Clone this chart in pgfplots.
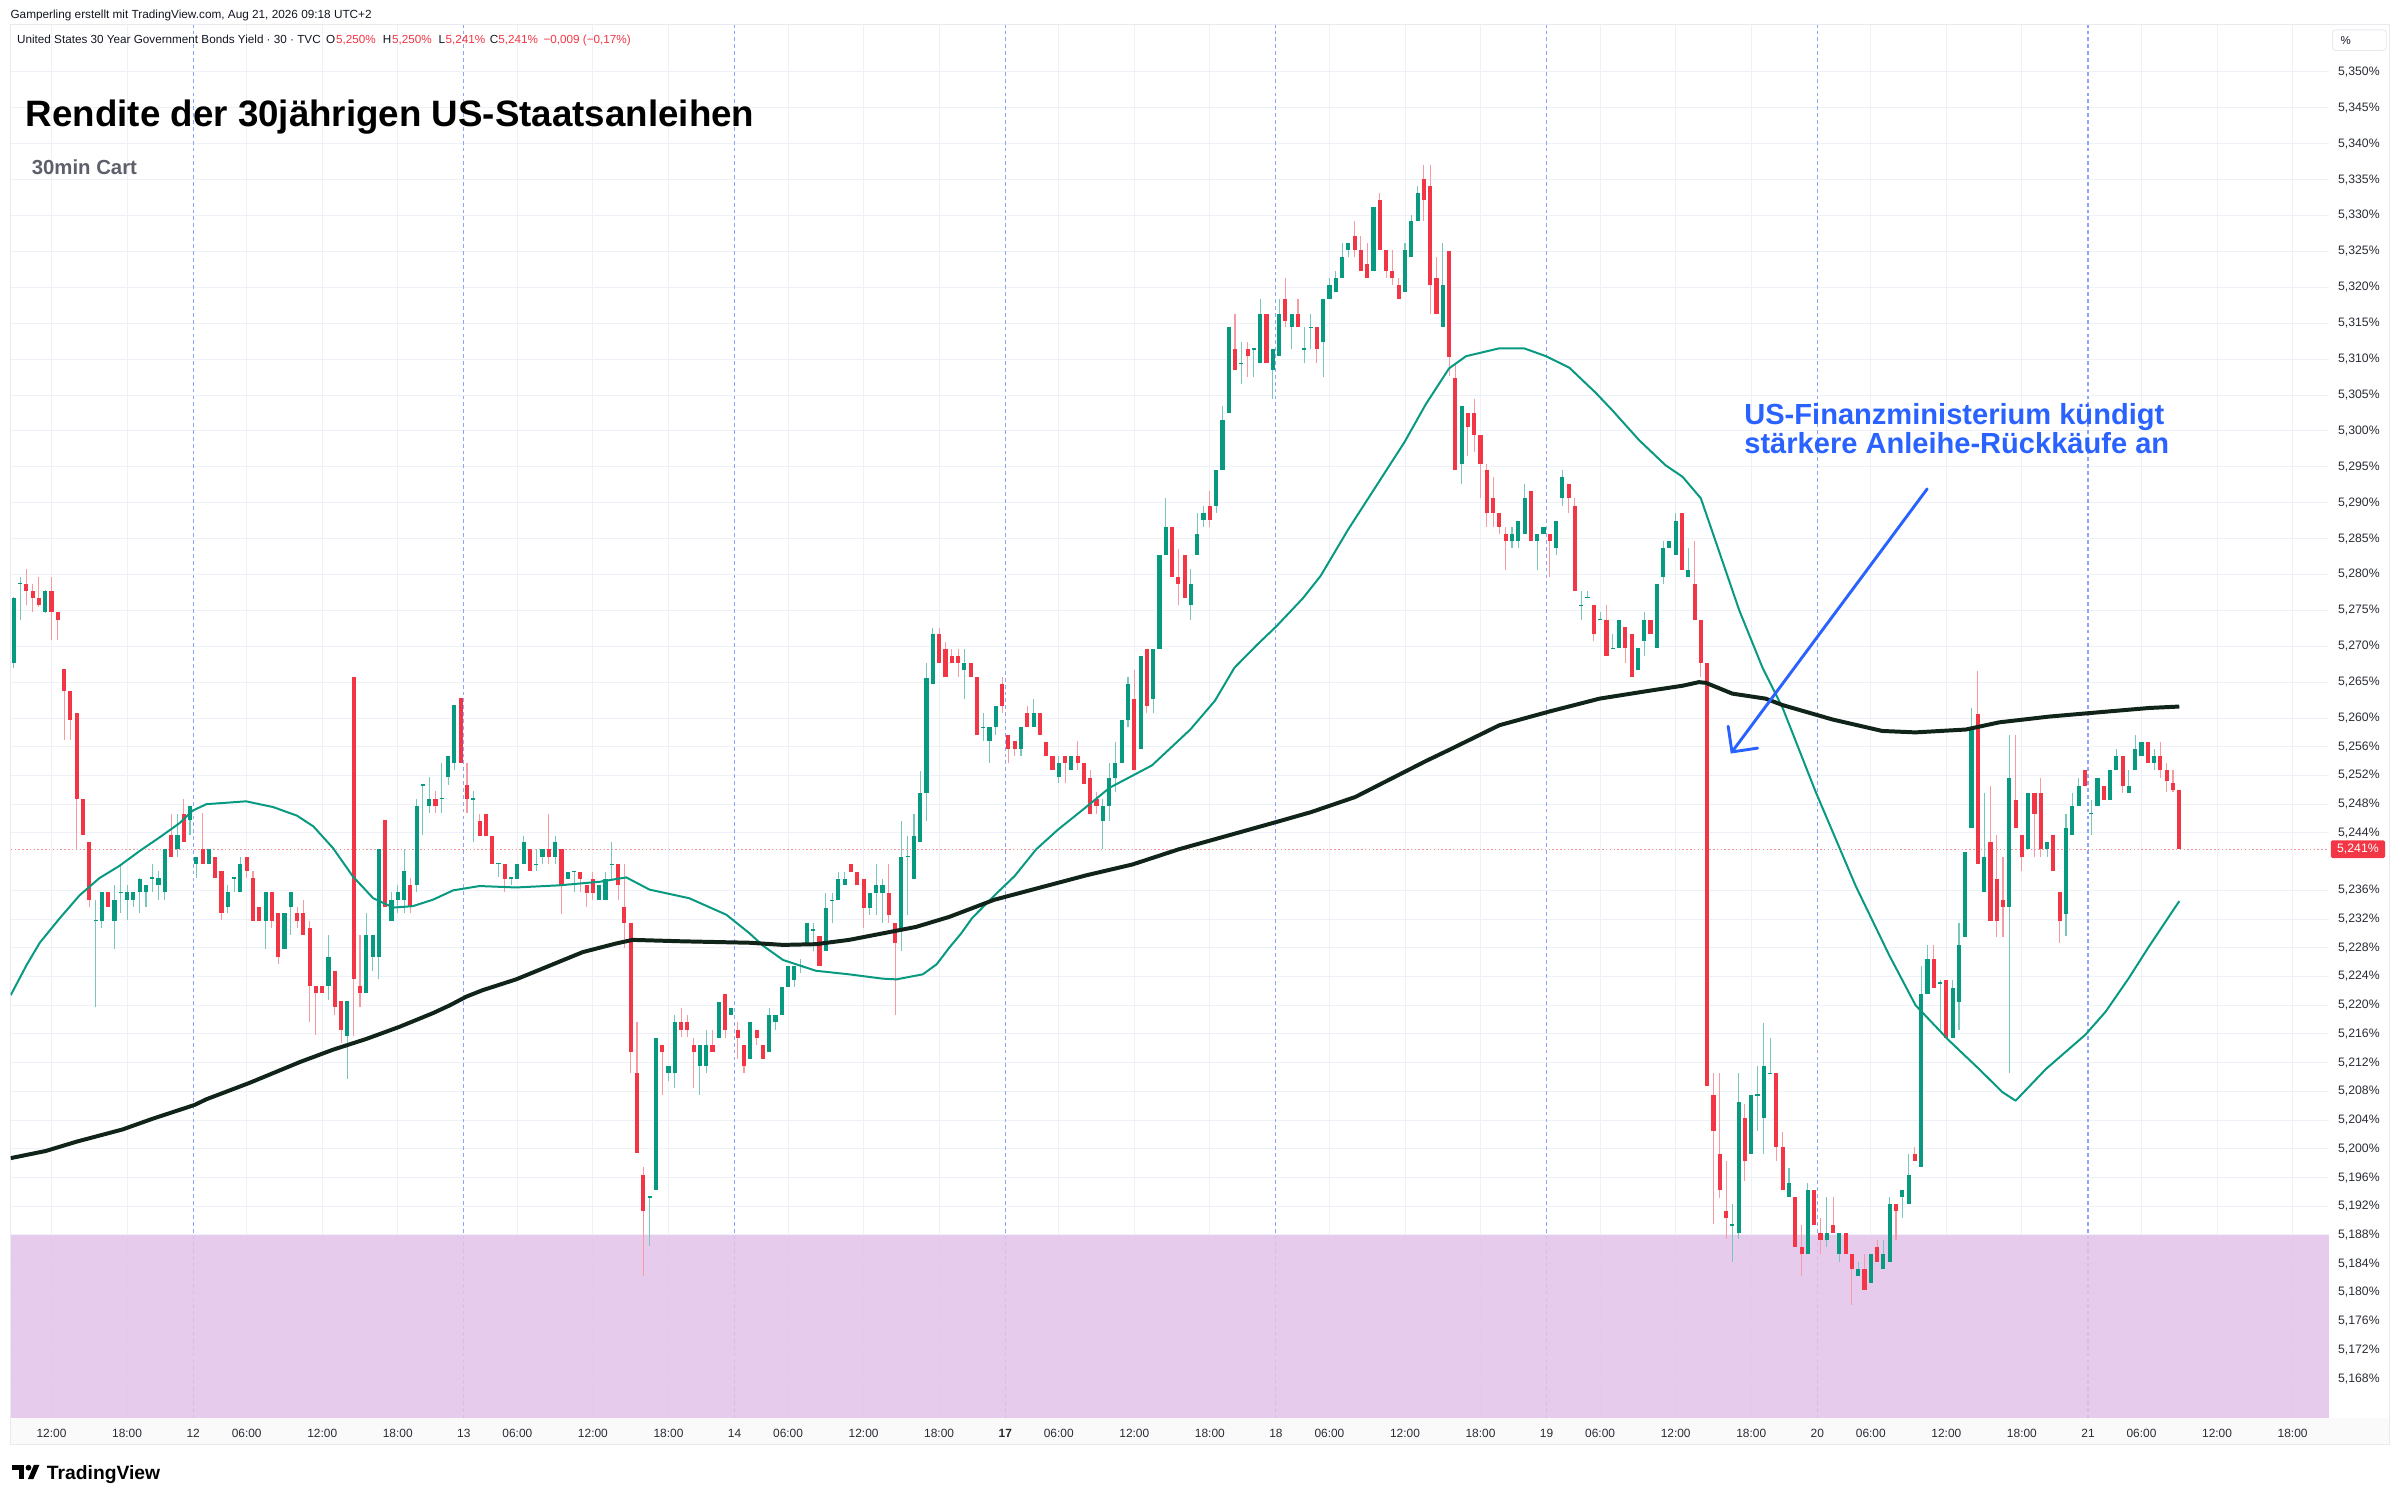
\documentclass[border=0pt]{standalone}
\usepackage{fontspec}
\setmainfont{Liberation Sans}
\usepackage{pgfplots}
\pgfplotsset{compat=1.18}
\usepackage{pgfplotstable}
\usetikzlibrary{arrows.meta}

\definecolor{upcol}{RGB}{8,153,129}
\definecolor{downcol}{RGB}{242,54,69}
\definecolor{gridcol}{RGB}{238,241,247}
\definecolor{daycol}{RGB}{140,165,250}
\definecolor{zonecol}{RGB}{227,195,233}
\definecolor{labelcol}{RGB}{40,44,52}
\definecolor{textcol}{RGB}{19,23,34}
\definecolor{subcol}{RGB}{93,96,107}
\definecolor{annblue}{RGB}{41,98,255}
\definecolor{maBlack}{RGB}{16,36,26}
\definecolor{stripcol}{RGB}{250,250,250}
\definecolor{bordercol}{RGB}{232,234,238}

\pgfplotstableread[row sep=\\]{
k O H L C\\
0 5.2676 5.2769 5.2669 5.2767\\
1 5.2786 5.2797 5.2737 5.2788\\
5 5.2747 5.2778 5.2746 5.2777\\
13 5.2317 5.2347 5.2197 5.2319\\
14 5.2317 5.2357 5.2308 5.2357\\
16 5.2317 5.2367 5.2278 5.2347\\
17 5.2356 5.2396 5.2328 5.2358\\
18 5.2347 5.2367 5.2318 5.2357\\
19 5.2347 5.2358 5.2337 5.2357\\
20 5.2357 5.2377 5.2328 5.2376\\
21 5.2357 5.2368 5.2337 5.2367\\
22 5.2376 5.2397 5.2358 5.2378\\
23 5.2367 5.2387 5.2347 5.2377\\
24 5.2357 5.2418 5.2347 5.2418\\
26 5.2418 5.2467 5.2407 5.2437\\
28 5.2458 5.2477 5.2437 5.2477\\
29 5.2397 5.2407 5.2377 5.2407\\
31 5.2397 5.2418 5.2397 5.2418\\
34 5.2337 5.2367 5.2328 5.2357\\
35 5.2376 5.2378 5.2357 5.2378\\
36 5.2357 5.2407 5.2357 5.2397\\
40 5.2317 5.2357 5.2278 5.2357\\
43 5.2278 5.2328 5.2278 5.2328\\
44 5.2337 5.2357 5.2298 5.2357\\
50 5.2227 5.2298 5.2207 5.2267\\
53 5.2157 5.2206 5.2097 5.2206\\
56 5.2217 5.2328 5.2217 5.2298\\
57 5.2267 5.2298 5.2247 5.2298\\
58 5.2267 5.2418 5.2237 5.2418\\
60 5.2317 5.2357 5.2317 5.2347\\
61 5.2347 5.2367 5.2328 5.2357\\
62 5.2347 5.2418 5.2328 5.2387\\
64 5.2367 5.2487 5.2357 5.2477\\
65 5.2506 5.2508 5.2437 5.2508\\
66 5.2477 5.2518 5.2468 5.2487\\
68 5.2487 5.2537 5.2468 5.2489\\
69 5.2518 5.2547 5.2507 5.2547\\
70 5.2537 5.2618 5.2528 5.2618\\
73 5.2486 5.2498 5.2428 5.2488\\
77 5.2396 5.2397 5.2378 5.2398\\
79 5.2376 5.2378 5.2367 5.2378\\
80 5.2376 5.2396 5.2376 5.2396\\
81 5.2396 5.2435 5.2396 5.2427\\
83 5.2395 5.2417 5.2387 5.2397\\
84 5.2407 5.2417 5.2396 5.2417\\
86 5.2407 5.2435 5.2396 5.2427\\
88 5.2376 5.2386 5.2376 5.2386\\
89 5.2385 5.2387 5.2357 5.2387\\
93 5.2346 5.2367 5.2346 5.2367\\
94 5.2346 5.2386 5.2346 5.2376\\
95 5.2395 5.2427 5.2376 5.2397\\
101 5.1932 5.1934 5.1864 5.1934\\
102 5.1943 5.2154 5.1943 5.2154\\
104 5.2105 5.2115 5.2095 5.2115\\
105 5.2105 5.2186 5.2085 5.2176\\
109 5.2115 5.2144 5.2075 5.2144\\
110 5.2115 5.2166 5.2106 5.2144\\
112 5.2154 5.2205 5.2154 5.2205\\
114 5.2186 5.2196 5.2186 5.2196\\
117 5.2125 5.2176 5.2125 5.2176\\
120 5.2135 5.2196 5.2135 5.2186\\
121 5.2176 5.2186 5.2166 5.2186\\
122 5.2186 5.2225 5.2186 5.2225\\
123 5.2225 5.2255 5.2225 5.2255\\
124 5.2235 5.2255 5.2225 5.2255\\
125 5.2254 5.2265 5.2245 5.2256\\
126 5.2285 5.2315 5.2285 5.2315\\
127 5.2304 5.2315 5.2275 5.2306\\
129 5.2276 5.2356 5.2276 5.2336\\
130 5.2345 5.2356 5.2315 5.2347\\
131 5.2346 5.2386 5.2346 5.2376\\
132 5.2367 5.2386 5.2367 5.2376\\
136 5.2336 5.2356 5.2326 5.2356\\
137 5.2356 5.2396 5.2326 5.2367\\
138 5.2356 5.2376 5.2315 5.2367\\
141 5.2305 5.2456 5.2276 5.2407\\
142 5.2406 5.2435 5.2326 5.2408\\
143 5.2376 5.2466 5.2376 5.2435\\
144 5.2427 5.2526 5.2427 5.2496\\
145 5.2496 5.2677 5.2456 5.2656\\
146 5.2647 5.2726 5.2647 5.2717\\
151 5.2667 5.2696 5.2627 5.2676\\
154 5.2586 5.2607 5.2568 5.2588\\
155 5.2568 5.2587 5.2537 5.2587\\
156 5.2587 5.2617 5.2577 5.2617\\
160 5.2557 5.2587 5.2547 5.2587\\
162 5.2587 5.2627 5.2587 5.2607\\
166 5.2518 5.2547 5.2509 5.2537\\
168 5.2527 5.2547 5.2527 5.2547\\
173 5.2457 5.2487 5.2417 5.2478\\
174 5.2478 5.2537 5.2457 5.2517\\
175 5.2517 5.2567 5.2497 5.2537\\
176 5.2537 5.2597 5.2537 5.2597\\
177 5.2597 5.2657 5.2587 5.2647\\
179 5.2557 5.2687 5.2557 5.2687\\
181 5.2627 5.2696 5.2607 5.2696\\
182 5.2696 5.2827 5.2696 5.2827\\
183 5.2827 5.2906 5.2827 5.2866\\
187 5.2757 5.2807 5.2737 5.2787\\
188 5.2827 5.2886 5.2827 5.2857\\
189 5.2876 5.2896 5.2866 5.2886\\
191 5.2896 5.2946 5.2886 5.2946\\
192 5.2946 5.3035 5.2946 5.3015\\
193 5.3025 5.3144 5.3025 5.3144\\
195 5.3093 5.3124 5.3065 5.3095\\
197 5.3113 5.3115 5.3075 5.3115\\
198 5.3094 5.3183 5.3094 5.3163\\
200 5.3085 5.3114 5.3045 5.3114\\
201 5.3104 5.3183 5.3104 5.3163\\
203 5.3144 5.3163 5.3114 5.3163\\
205 5.3113 5.3144 5.3094 5.3115\\
206 5.3143 5.3163 5.3114 5.3145\\
208 5.3124 5.3183 5.3075 5.3183\\
209 5.3183 5.3213 5.3183 5.3203\\
210 5.3193 5.3223 5.3193 5.3213\\
211 5.3213 5.3262 5.3213 5.3242\\
212 5.3252 5.3262 5.3242 5.3262\\
216 5.3223 5.3312 5.3223 5.3312\\
221 5.3193 5.3262 5.3193 5.3252\\
222 5.3242 5.3301 5.3242 5.3292\\
223 5.3292 5.3341 5.3292 5.3331\\
227 5.3144 5.3262 5.3144 5.3203\\
230 5.2954 5.3034 5.2926 5.3034\\
238 5.2846 5.2866 5.2837 5.2856\\
239 5.2846 5.2875 5.2837 5.2875\\
240 5.2856 5.2926 5.2856 5.2906\\
242 5.2846 5.2856 5.2806 5.2856\\
243 5.2856 5.2866 5.2856 5.2866\\
245 5.2837 5.2875 5.2827 5.2875\\
246 5.2906 5.2946 5.2896 5.2936\\
249 5.2756 5.2777 5.2737 5.2758\\
250 5.2767 5.2777 5.2767 5.2769\\
252 5.2736 5.2747 5.2736 5.2738\\
254 5.2696 5.2717 5.2696 5.2698\\
255 5.2697 5.2737 5.2697 5.2737\\
258 5.2667 5.2697 5.2667 5.2697\\
259 5.2707 5.2747 5.2687 5.2737\\
261 5.2697 5.2787 5.2697 5.2787\\
262 5.2797 5.2846 5.2787 5.2837\\
263 5.2837 5.2846 5.2837 5.2846\\
264 5.2827 5.2886 5.2827 5.2875\\
266 5.2797 5.2837 5.2797 5.2806\\
273 5.1893 5.1923 5.1843 5.1895\\
274 5.1883 5.2105 5.1875 5.2065\\
276 5.1993 5.2075 5.1993 5.2075\\
277 5.2074 5.2115 5.2025 5.2076\\
278 5.2043 5.2175 5.1993 5.2115\\
279 5.2104 5.2155 5.2104 5.2106\\
282 5.1933 5.1973 5.1933 5.1953\\
285 5.1853 5.1953 5.1853 5.1943\\
288 5.1873 5.1933 5.1863 5.1883\\
290 5.1853 5.1883 5.1843 5.1883\\
293 5.1823 5.1843 5.1823 5.1833\\
295 5.1813 5.1853 5.1813 5.1853\\
297 5.1833 5.1873 5.1833 5.1853\\
298 5.1843 5.1933 5.1843 5.1923\\
300 5.1933 5.1943 5.1903 5.1943\\
301 5.1923 5.1993 5.1923 5.1963\\
303 5.1975 5.2255 5.1975 5.2215\\
304 5.2215 5.2284 5.2215 5.2264\\
306 5.2230 5.2235 5.2165 5.2232\\
308 5.2155 5.2235 5.2155 5.2224\\
309 5.2205 5.2315 5.2165 5.2284\\
310 5.2295 5.2414 5.2295 5.2414\\
311 5.2447 5.2614 5.2447 5.2586\\
313 5.2357 5.2496 5.2357 5.2407\\
317 5.2337 5.2577 5.2105 5.2517\\
320 5.2417 5.2496 5.2417 5.2496\\
323 5.2417 5.2427 5.2407 5.2427\\
326 5.2327 5.2467 5.2297 5.2447\\
327 5.2437 5.2496 5.2437 5.2477\\
328 5.2477 5.2517 5.2477 5.2506\\
330 5.2466 5.2486 5.2437 5.2468\\
331 5.2477 5.2517 5.2477 5.2517\\
333 5.2486 5.2527 5.2486 5.2527\\
334 5.2527 5.2557 5.2527 5.2547\\
336 5.2496 5.2527 5.2496 5.2506\\
337 5.2527 5.2577 5.2527 5.2557\\
338 5.2547 5.2567 5.2547 5.2567\\
340 5.2537 5.2557 5.2527 5.2547\\
}\upT

\pgfplotstableread[row sep=\\]{
k O H L C\\
2 5.2787 5.2807 5.2757 5.2777\\
3 5.2777 5.2787 5.2747 5.2767\\
4 5.2767 5.2797 5.2755 5.2757\\
6 5.2777 5.2797 5.2708 5.2747\\
7 5.2747 5.2748 5.2708 5.2737\\
8 5.2668 5.2668 5.2569 5.2637\\
9 5.2637 5.2637 5.2569 5.2597\\
10 5.2607 5.2607 5.2418 5.2487\\
11 5.2487 5.2487 5.2437 5.2437\\
12 5.2428 5.2428 5.2337 5.2347\\
15 5.2357 5.2357 5.2337 5.2337\\
25 5.2437 5.2467 5.2407 5.2407\\
27 5.2467 5.2487 5.2428 5.2428\\
30 5.2418 5.2468 5.2397 5.2397\\
32 5.2407 5.2407 5.2377 5.2377\\
33 5.2387 5.2387 5.2318 5.2328\\
37 5.2407 5.2407 5.2377 5.2387\\
38 5.2377 5.2387 5.2317 5.2317\\
39 5.2337 5.2337 5.2317 5.2317\\
41 5.2357 5.2357 5.2308 5.2317\\
42 5.2328 5.2328 5.2257 5.2267\\
45 5.2328 5.2337 5.2308 5.2317\\
46 5.2328 5.2347 5.2298 5.2298\\
47 5.2308 5.2317 5.2177 5.2227\\
48 5.2227 5.2227 5.2158 5.2217\\
49 5.2227 5.2227 5.2217 5.2217\\
51 5.2247 5.2247 5.2187 5.2197\\
52 5.2206 5.2206 5.2147 5.2166\\
54 5.2657 5.2657 5.2157 5.2237\\
55 5.2227 5.2298 5.2197 5.2217\\
59 5.2458 5.2458 5.2337 5.2337\\
63 5.2367 5.2377 5.2328 5.2337\\
67 5.2487 5.2498 5.2468 5.2477\\
71 5.2628 5.2628 5.2537 5.2537\\
72 5.2507 5.2537 5.2468 5.2487\\
74 5.2456 5.2467 5.2435 5.2435\\
75 5.2466 5.2466 5.2435 5.2435\\
76 5.2435 5.2435 5.2396 5.2396\\
78 5.2396 5.2396 5.2357 5.2376\\
82 5.2417 5.2417 5.2387 5.2387\\
85 5.2417 5.2466 5.2396 5.2407\\
87 5.2417 5.2417 5.2327 5.2367\\
90 5.2386 5.2386 5.2357 5.2376\\
91 5.2367 5.2367 5.2337 5.2356\\
92 5.2376 5.2386 5.2346 5.2356\\
96 5.2396 5.2396 5.2346 5.2367\\
97 5.2337 5.2396 5.2280 5.2315\\
98 5.2315 5.2315 5.2106 5.2135\\
99 5.2105 5.2176 5.1994 5.1994\\
100 5.1963 5.1974 5.1823 5.1913\\
103 5.2144 5.2144 5.2075 5.2135\\
106 5.2176 5.2196 5.2156 5.2166\\
107 5.2176 5.2186 5.2156 5.2166\\
108 5.2144 5.2154 5.2085 5.2135\\
111 5.2144 5.2166 5.2135 5.2135\\
113 5.2216 5.2216 5.2154 5.2166\\
115 5.2166 5.2176 5.2125 5.2154\\
116 5.2144 5.2144 5.2105 5.2115\\
118 5.2166 5.2166 5.2144 5.2154\\
119 5.2144 5.2144 5.2125 5.2125\\
128 5.2296 5.2296 5.2255 5.2255\\
133 5.2396 5.2396 5.2386 5.2386\\
134 5.2386 5.2386 5.2367 5.2367\\
135 5.2376 5.2376 5.2307 5.2336\\
139 5.2356 5.2396 5.2315 5.2326\\
140 5.2315 5.2315 5.2186 5.2286\\
147 5.2717 5.2726 5.2676 5.2676\\
148 5.2696 5.2706 5.2657 5.2657\\
149 5.2687 5.2696 5.2676 5.2676\\
150 5.2687 5.2696 5.2657 5.2676\\
152 5.2676 5.2676 5.2657 5.2657\\
153 5.2657 5.2657 5.2577 5.2577\\
157 5.2647 5.2657 5.2607 5.2617\\
158 5.2577 5.2577 5.2537 5.2557\\
159 5.2568 5.2568 5.2547 5.2557\\
161 5.2607 5.2617 5.2587 5.2587\\
163 5.2607 5.2607 5.2577 5.2577\\
164 5.2567 5.2567 5.2547 5.2547\\
165 5.2547 5.2547 5.2527 5.2527\\
167 5.2547 5.2547 5.2509 5.2537\\
169 5.2547 5.2568 5.2527 5.2537\\
170 5.2537 5.2537 5.2508 5.2508\\
171 5.2517 5.2527 5.2467 5.2467\\
172 5.2487 5.2497 5.2467 5.2478\\
178 5.2627 5.2667 5.2527 5.2527\\
180 5.2696 5.2696 5.2607 5.2617\\
184 5.2866 5.2866 5.2796 5.2796\\
185 5.2796 5.2836 5.2757 5.2787\\
186 5.2827 5.2827 5.2767 5.2767\\
190 5.2896 5.2916 5.2866 5.2876\\
194 5.3114 5.3163 5.3085 5.3085\\
196 5.3114 5.3124 5.3075 5.3104\\
199 5.3163 5.3163 5.3094 5.3094\\
202 5.3183 5.3213 5.3144 5.3153\\
204 5.3163 5.3183 5.3144 5.3144\\
207 5.3144 5.3144 5.3094 5.3114\\
213 5.3272 5.3292 5.3242 5.3252\\
214 5.3252 5.3272 5.3223 5.3223\\
215 5.3232 5.3262 5.3213 5.3213\\
217 5.3321 5.3331 5.3252 5.3252\\
218 5.3252 5.3252 5.3213 5.3223\\
219 5.3223 5.3252 5.3203 5.3213\\
220 5.3203 5.3213 5.3183 5.3183\\
224 5.3351 5.3371 5.3292 5.3321\\
225 5.3341 5.3371 5.3163 5.3203\\
226 5.3213 5.3242 5.3163 5.3163\\
228 5.3251 5.3251 5.3077 5.3103\\
229 5.3074 5.3093 5.2945 5.2945\\
231 5.3025 5.3025 5.2965 5.3005\\
232 5.3025 5.3045 5.2970 5.2994\\
233 5.2994 5.2994 5.2906 5.2954\\
234 5.2945 5.2954 5.2866 5.2886\\
235 5.2906 5.2936 5.2866 5.2886\\
236 5.2886 5.2886 5.2856 5.2866\\
237 5.2856 5.2866 5.2806 5.2846\\
241 5.2916 5.2916 5.2846 5.2846\\
244 5.2856 5.2856 5.2797 5.2846\\
247 5.2926 5.2926 5.2886 5.2906\\
248 5.2896 5.2906 5.2777 5.2777\\
251 5.2757 5.2757 5.2707 5.2717\\
253 5.2737 5.2757 5.2687 5.2687\\
256 5.2727 5.2727 5.2677 5.2697\\
257 5.2717 5.2717 5.2657 5.2657\\
260 5.2737 5.2737 5.2717 5.2717\\
265 5.2886 5.2886 5.2806 5.2806\\
267 5.2787 5.2846 5.2737 5.2737\\
268 5.2737 5.2737 5.2657 5.2677\\
269 5.2677 5.2677 5.2087 5.2087\\
270 5.2075 5.2105 5.1895 5.2025\\
271 5.1993 5.2105 5.1931 5.1943\\
272 5.1913 5.1983 5.1875 5.1903\\
275 5.2043 5.2063 5.1955 5.1983\\
280 5.2105 5.2105 5.1983 5.2003\\
281 5.2003 5.2023 5.1943 5.1943\\
283 5.1933 5.1933 5.1863 5.1863\\
284 5.1863 5.1894 5.1823 5.1853\\
286 5.1943 5.1943 5.1894 5.1894\\
287 5.1883 5.1903 5.1853 5.1873\\
289 5.1894 5.1933 5.1883 5.1883\\
291 5.1883 5.1883 5.1853 5.1853\\
292 5.1853 5.1853 5.1783 5.1833\\
294 5.1833 5.1853 5.1803 5.1803\\
296 5.1863 5.1873 5.1843 5.1843\\
299 5.1923 5.1923 5.1873 5.1913\\
302 5.1993 5.2003 5.1983 5.1983\\
305 5.2264 5.2284 5.2224 5.2224\\
307 5.2235 5.2235 5.2155 5.2155\\
312 5.2606 5.2666 5.2397 5.2397\\
314 5.2427 5.2506 5.2317 5.2317\\
315 5.2376 5.2437 5.2295 5.2317\\
316 5.2347 5.2407 5.2295 5.2337\\
318 5.2486 5.2577 5.2447 5.2447\\
319 5.2437 5.2437 5.2387 5.2407\\
321 5.2496 5.2496 5.2407 5.2467\\
322 5.2496 5.2517 5.2407 5.2417\\
324 5.2437 5.2437 5.2387 5.2387\\
325 5.2357 5.2357 5.2287 5.2317\\
329 5.2527 5.2527 5.2506 5.2506\\
332 5.2506 5.2506 5.2486 5.2486\\
335 5.2547 5.2547 5.2496 5.2506\\
339 5.2567 5.2567 5.2537 5.2537\\
341 5.2547 5.2567 5.2517 5.2527\\
342 5.2527 5.2537 5.2497 5.2512\\
343 5.2510 5.2527 5.2497 5.2500\\
344 5.2500 5.2500 5.2417 5.2417\\
}\downT

\begin{document}
\begin{tikzpicture}[x=1pt,y=1pt]
\fill[white] (0,0) rectangle (1568.5,981);
\fill[stripcol] (7,37) rectangle (1561.5,54);
\draw[bordercol, line width=0.6pt] (7,37) rectangle (1561.5,964.7);

\begin{axis}[
  at={(7pt,54pt)}, anchor=south west,
  scale only axis, width=1515pt, height=910.7pt,
  xmin=-0.486, xmax=367.77, ymin=5.162446, ymax=5.356543,
  clip mode=individual, clip bounding box=upper bound,
  axis line style={draw=none},
  major tick length=0pt,
  xmajorgrids, ymajorgrids,
  major grid style={gridcol, line width=0.6pt},
  xtick={6,18,37,49,61,80,92,104,123,135,147,166,178,190,209,221,233,252,264,276,295,307,319,338,350,362},
  xticklabels={12:00,18:00,06:00,12:00,18:00,06:00,12:00,18:00,06:00,12:00,18:00,06:00,12:00,18:00,06:00,12:00,18:00,06:00,12:00,18:00,06:00,12:00,18:00,06:00,12:00,18:00},
  extra x ticks={28.5,71.5,114.5,157.5,200.5,243.5,286.5,329.5},
  extra x tick labels={12,13,14,\textbf{17},18,19,20,21},
  extra x tick style={major grid style={daycol, line width=0.7pt, dash pattern=on 2.5pt off 2pt}},
  ytick={5.168,5.172,5.176,5.180,5.184,5.188,5.192,5.196,5.200,5.204,5.208,5.212,5.216,5.220,5.224,5.228,5.232,5.236,5.244,5.248,5.252,5.256,5.260,5.265,5.270,5.275,5.280,5.285,5.290,5.295,5.300,5.305,5.310,5.315,5.320,5.325,5.330,5.335,5.340,5.345,5.350},
  yticklabel pos=right,
  scaled y ticks=false,
  yticklabel={\pgfmathprintnumber[fixed,fixed zerofill,precision=3,use comma]{\tick}\%},
  /pgf/number format/assume math mode=true,
  xticklabel style={anchor=center, yshift=-9.5pt, font=\fontsize{7.8}{9}\selectfont, text=labelcol},
  yticklabel style={anchor=center, xshift=19.6pt, font=\fontsize{8}{9}\selectfont, text=labelcol},
]
% support zone
\addplot[draw=none, fill=zonecol, fill opacity=0.85] coordinates {(-0.486,5.162446) (-0.486,5.188) (367.77,5.188) (367.77,5.162446)} -- cycle;
% last price line
\addplot[downcol!55, line width=0.6pt, dash pattern=on 1pt off 1.5pt] coordinates {(-0.486,5.2417) (367.77,5.2417)};
% wicks
\addplot[draw=none, mark=none, error bars/.cd, y dir=plus, y explicit, error mark=none,
  error bar style={draw=upcol!55, line width=0.7pt}]
  table[x=k, y=L, y error plus expr={\thisrow{H}-\thisrow{L}}] {\upT};
\addplot[draw=none, mark=none, error bars/.cd, y dir=plus, y explicit, error mark=none,
  error bar style={draw=downcol!50, line width=0.7pt}]
  table[x=k, y=L, y error plus expr={\thisrow{H}-\thisrow{L}}] {\downT};
% bodies
\addplot[draw=none, mark=none, error bars/.cd, y dir=plus, y explicit, error mark=none,
  error bar style={draw=upcol, line width=2.7pt, line cap=butt}]
  table[x=k, y=O, y error plus expr={max(\thisrow{C}-\thisrow{O},0.00012)}] {\upT};
\addplot[draw=none, mark=none, error bars/.cd, y dir=plus, y explicit, error mark=none,
  error bar style={draw=downcol, line width=2.7pt, line cap=butt}]
  table[x=k, y=C, y error plus expr={max(\thisrow{O}-\thisrow{C},0.00012)}] {\downT};
% moving averages
\addplot[upcol, line width=1.3pt, line join=round] coordinates {
(-0.486,5.2214) (2.04,5.2256) (4.13,5.2287) (7.29,5.2321) (10.45,5.2353) (13.6,5.2377) (16.77,5.2394) (20.03,5.2415) (23.2,5.2434) (26.4,5.2454) (28.4,5.2471) (30.6,5.2480) (36.9,5.2484) (41.2,5.2476) (45.0,5.2464) (47.6,5.2449) (50.7,5.2419) (53.9,5.2379) (57.1,5.2349) (60.3,5.2336) (63.4,5.2338) (66.6,5.2347) (69.8,5.2360) (74.0,5.2366) (79.8,5.2364) (86.7,5.2367) (93.1,5.2372) (97.3,5.2378) (101.0,5.2361) (107.3,5.2349) (113.2,5.2326) (116.9,5.2300) (119.0,5.2283) (122.2,5.2263) (127.4,5.2248) (132.7,5.2243) (138.0,5.2237) (140.2,5.2236) (144.4,5.2243) (146.6,5.2257) (148.6,5.2280) (150.5,5.2300) (152.2,5.2321) (155.8,5.2353) (159.0,5.2380) (162.4,5.2417) (165.8,5.2444) (170.2,5.2475) (174.1,5.2503) (180.8,5.2534) (186.9,5.2584) (190.8,5.2624) (193.9,5.2670) (197.5,5.2702) (200.6,5.2728) (204.8,5.2767) (207.6,5.2798) (212.0,5.2863) (215.9,5.2916) (220.9,5.2984) (224.3,5.3037) (228.0,5.3087) (230.7,5.3104) (236.0,5.3115) (239.9,5.3115) (243.4,5.3104) (247.1,5.3088) (251.3,5.3053) (253.9,5.3029) (258.2,5.2987) (262.4,5.2952) (265.1,5.2936) (268.0,5.2906) (270.9,5.2832) (274.1,5.2750) (277.8,5.2670) (281.0,5.2614) (286.2,5.2498) (292.6,5.2366) (297.9,5.2270) (302.1,5.2200) (307.4,5.2151) (312.2,5.2111) (315.9,5.2079) (318.0,5.2067) (322.8,5.2111) (329.1,5.2159) (332.3,5.2191) (336.0,5.2238) (339.2,5.2282) (344.0,5.2345)
};
\addplot[maBlack, line width=2.6pt, line join=round] coordinates {
(-0.486,5.1987) (5.1,5.1997) (10.0,5.2010) (17.3,5.2027) (22.1,5.2042) (28.7,5.2061) (30.6,5.2069) (37.5,5.2092) (45.5,5.2121) (50.7,5.2138) (56.0,5.2153) (61.3,5.2170) (66.6,5.2189) (69.3,5.2200) (71.9,5.2212) (74.5,5.2221) (79.8,5.2236) (85.1,5.2255) (90.4,5.2274) (95.7,5.2286) (98.3,5.2291) (106.2,5.2289) (116.9,5.2287) (122.2,5.2284) (127.4,5.2285) (132.7,5.2291) (138.0,5.2300) (143.3,5.2309) (148.6,5.2323) (155.8,5.2347) (163.1,5.2364) (170.4,5.2381) (177.7,5.2396) (185.0,5.2417) (194.8,5.2441) (200.9,5.2456) (206.1,5.2469) (213.1,5.2490) (218.7,5.2515) (224.3,5.2540) (228.1,5.2556) (236.0,5.2590) (243.9,5.2609) (251.9,5.2627) (259.8,5.2638) (265.1,5.2645) (267.7,5.2650) (268.8,5.2649) (273.0,5.2634) (278.3,5.2627) (281.0,5.2618) (288.9,5.2598) (296.8,5.2582) (302.1,5.2580) (310.1,5.2584) (315.4,5.2594) (323.3,5.2602) (331.2,5.2608) (339.2,5.2614) (344.0,5.2616)
};
\end{axis}

% header texts
\node[anchor=base west, inner sep=0pt, text=textcol, font=\fontsize{7.7}{9}\selectfont] at (6.7,969) {Gamperling erstellt mit TradingView.com, Aug 21, 2026 09:18 UTC+2};
\begin{scope}[every node/.style={anchor=base west, inner sep=0pt, font=\fontsize{7.65}{9}\selectfont}]
\node[text=textcol] at (11,952.3) {United States 30 Year Government Bonds Yield · 30 · TVC};
\node[text=textcol] at (213,952.3) {O};
\node[text=downcol] at (219.5,952.3) {5,250\%};
\node[text=textcol] at (250,952.3) {H};
\node[text=downcol] at (256,952.3) {5,250\%};
\node[text=textcol] at (286.5,952.3) {L};
\node[text=downcol] at (291,952.3) {5,241\%};
\node[text=textcol] at (320,952.3) {C};
\node[text=downcol] at (325.5,952.3) {5,241\%};
\node[text=downcol] at (355,952.3) {−0,009 (−0,17\%)};
\end{scope}
\node[anchor=base west, inner sep=0pt, text=black, font=\fontsize{24}{28}\selectfont\bfseries] at (16.7,898) {Rendite der 30jährigen US-Staatsanleihen};
\node[anchor=base west, inner sep=0pt, text=subcol, font=\fontsize{13.3}{15}\selectfont\bfseries] at (20.6,866.7) {30min Cart};

% annotation
\node[anchor=base west, inner sep=0pt, text=annblue, font=\fontsize{19}{20}\selectfont\bfseries] at (1139.8,703.4) {US-Finanzministerium kündigt};
\node[anchor=base west, inner sep=0pt, text=annblue, font=\fontsize{19}{20}\selectfont\bfseries] at (1139.8,684.5) {stärkere Anleihe-Rückkäufe an};
\draw[annblue, line width=1.9pt, line cap=round, line join=round, -{Straight Barb[length=12pt, width=24pt, line cap=round]}] (1259.5,661.5) -- (1131.1,488.5);

% price scale extras
\node[fill=downcol, text=white, font=\fontsize{8}{9}\selectfont, minimum width=35.5pt, minimum height=11.5pt, inner sep=0pt, rounded corners=1pt] at (1541,426) {5,241\%};
\draw[bordercol, line width=0.6pt, rounded corners=2pt, fill=white] (1524.5,948) rectangle (1559.5,961.5);
\node[anchor=west, inner sep=0pt, text=textcol, font=\fontsize{7.5}{9}\selectfont] at (1529.5,954.7) {\%};

% TradingView logo
\fill[black] (7.6,20.3) rectangle (16,23.7);
\fill[black] (12.4,14.3) rectangle (16,23.7);
\fill[black] (18.6,21.8) circle (1.9);
\fill[black] (18.2,14.3) -- (22.2,23.7) -- (25.8,23.7) -- (21.8,14.3) -- cycle;
\node[anchor=base west, inner sep=0pt, text=black, font=\fontsize{12.6}{14}\selectfont\bfseries] at (30.5,14.3) {TradingView};

\pgfresetboundingbox
\useasboundingbox (0,0) rectangle (1568.5,981);
\end{tikzpicture}
\end{document}
